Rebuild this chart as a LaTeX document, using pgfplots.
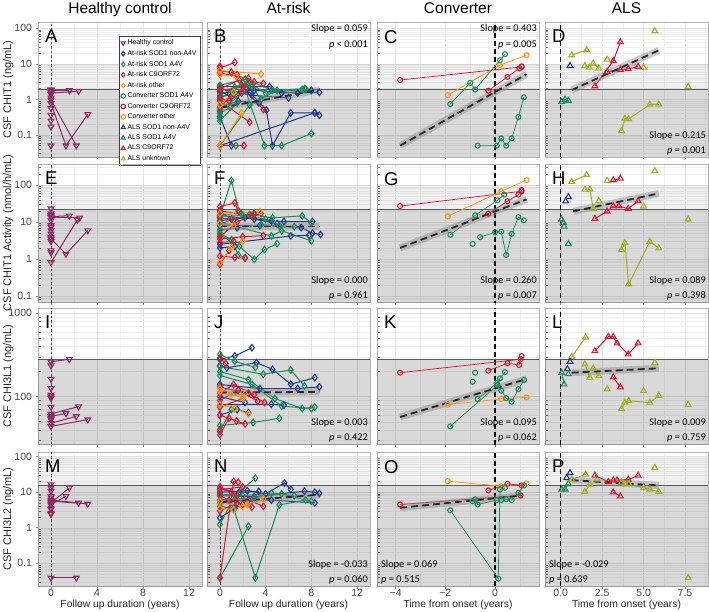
\documentclass[border=0pt]{standalone}
\usepackage{pgfplots}
\pgfplotsset{compat=1.18}
\usepackage{fontspec}
\setmainfont{Liberation Sans}
\newfontfamily\calib{Carlito}
\definecolor{hcc}{RGB}{140,40,100}
\definecolor{cblu}{RGB}{30,55,140}
\definecolor{cgrn}{RGB}{25,140,90}
\definecolor{cred}{RGB}{215,25,50}
\definecolor{corg}{RGB}{250,150,20}
\definecolor{colv}{RGB}{160,175,35}
\tikzset{ymode/.code={}}
\pgfplotsset{
 panel/.style={scale only axis, axis line style={black!30,line width=0.8pt},
  grid=both, major grid style={black!11,line width=0.5pt}, minor grid style={black!6,line width=0.4pt},
  tick style={black!45,line width=0.6pt}, major tick length=2.5pt, minor tick length=2.5pt, tick align=outside,
  minor x tick style={draw=none}, minor y tick style={xshift=2.5pt, black!55, line width=0.5pt},
  xtick pos=left, ytick pos=left,
  xticklabel style={inner sep=0.8pt},
  ticklabel style={font=\fontsize{10.5}{12}\selectfont, text=black!72}},
 colAB/.style={xmin=-1.13,xmax=13.13,xtick={0,4,8,12},minor xtick={2,6,10}},
 colC/.style={xmin=-4.75,xmax=1.77,xtick={-4,-2,0},minor xtick={-3,-1,1}},
 colD/.style={xmin=-0.95,xmax=8.89,xtick={0,2.5,5,7.5},minor xtick={1.25,3.75,6.25,8.75}},
 rowA/.style={ymin=0.024,ymax=150,ytick={0.1,1,10,100},minor ytick={0.03,0.04,0.05,0.06,0.07,0.08,0.09,0.2,0.3,0.4,0.5,0.6,0.7,0.8,0.9,2,3,4,5,6,7,8,9,20,30,40,50,60,70,80,90},height=135pt},
 rowB/.style={ymin=0.069,ymax=370,ytick={0.1,1,10,100},minor ytick={0.07,0.08,0.09,0.2,0.3,0.4,0.5,0.6,0.7,0.8,0.9,2,3,4,5,6,7,8,9,20,30,40,50,60,70,80,90,200,300},height=138pt},
 rowC/.style={ymin=27,ymax=1160,ytick={100,1000},minor ytick={30,40,50,60,70,80,90,200,300,400,500,600,700,800,900},height=136pt},
 rowD/.style={ymin=0.023,ymax=135,ytick={0.1,1,10,100},minor ytick={0.03,0.04,0.05,0.06,0.07,0.08,0.09,0.2,0.3,0.4,0.5,0.6,0.7,0.8,0.9,2,3,4,5,6,7,8,9,20,30,40,50,60,70,80,90},height=134pt},
 noy/.style={yticklabels={}, major y tick style={draw=none}},
 nox/.style={xticklabels={}},
 sub/.style={line width=1pt, mark size=3.3pt, mark options={solid,line width=1.1pt}},
 hc/.style={line width=1pt, color=hcc, mark=triangle, mark size=3.3pt, mark options={solid,rotate=180,line width=1.1pt}},
 arb/.style={sub,color=cblu,mark=diamond},
 arg/.style={sub,color=cgrn,mark=diamond},
 arr/.style={sub,color=cred,mark=diamond},
 aro/.style={sub,color=corg,mark=diamond},
 cv/.style={line width=0.75pt, mark=o, mark size=2.5pt, mark options={solid,line width=1.1pt}},
 cvg/.style={cv,color=cgrn}, cvr/.style={cv,color=cred}, cvo/.style={cv,color=corg},
 al/.style={line width=1pt, mark=triangle, mark size=3.3pt, mark options={solid,line width=1.1pt}},
 alb/.style={al,color=cblu}, alg/.style={al,color=cgrn}, alr/.style={al,color=cred}, alo/.style={al,color=colv},
 thr/.style={black!65, line width=0.8pt, forget plot},
 vthin/.style={black!70, line width=0.6pt, dash pattern=on 2.5pt off 2pt, forget plot},
 vthick/.style={black, line width=1.3pt, dash pattern=on 5pt off 3pt, forget plot},
 rband/.style={black!45, line width=7pt, opacity=0.45, forget plot},
 rline/.style={black!85, line width=1.8pt, dash pattern=on 7pt off 4pt, forget plot},
}
\newcommand{\shaderow}[2]{%
 \addplot[draw=none, fill=black, fill opacity=0.15, forget plot] coordinates {(-10,0.001) (20,0.001) (20,#1) (-10,#1)} -- cycle;
 \addplot[draw=none, fill=black, fill opacity=0.06, forget plot] coordinates {(-10,#1) (20,#1) (20,#2) (-10,#2)} -- cycle;
 \addplot[thr] coordinates {(-10,#1) (20,#1)};}
\newcommand{\vlthin}{\addplot[vthin] coordinates {(0,0.001) (0,10000)};}
\newcommand{\vlthick}{\addplot[vthick] coordinates {(0,0.001) (0,10000)};}
\newcommand{\regline}[1]{\addplot[rband] coordinates {#1};\addplot[rline] coordinates {#1};}
\newcommand{\plet}[1]{\node[anchor=north west, inner sep=0pt, font=\fontsize{18.5}{18.5}\selectfont, xshift=7pt, yshift=-8pt] at (rel axis cs:0,1) {#1};}
\newcommand{\slopeTR}[2]{\node[anchor=base east, inner sep=0pt, font=\calib\fontsize{10.3}{12}\selectfont, xshift=-2pt, yshift=-9.5pt] at (rel axis cs:1,1) {Slope = #1};
 \node[anchor=base east, inner sep=0pt, font=\calib\fontsize{10.3}{12}\selectfont, xshift=-2pt, yshift=-25pt] at (rel axis cs:1,1) {\textit{p} #2};}
\newcommand{\slopeBR}[2]{\node[anchor=base east, inner sep=0pt, font=\calib\fontsize{10.3}{12}\selectfont, xshift=-2pt, yshift=18.5pt] at (rel axis cs:1,0) {Slope = #1};
 \node[anchor=base east, inner sep=0pt, font=\calib\fontsize{10.3}{12}\selectfont, xshift=-2pt, yshift=3.5pt] at (rel axis cs:1,0) {\textit{p} #2};}
\newcommand{\slopeBL}[2]{\node[anchor=base west, inner sep=0pt, font=\calib\fontsize{10.3}{12}\selectfont, xshift=4pt, yshift=18.5pt] at (rel axis cs:0,0) {Slope = #1};
 \node[anchor=base west, inner sep=0pt, font=\calib\fontsize{10.3}{12}\selectfont, xshift=4pt, yshift=3.5pt] at (rel axis cs:0,0) {\textit{p} #2};}
\begin{document}
\begin{tikzpicture}
\useasboundingbox (0,0) rectangle (709pt,-611pt);
% ================= ROW 1 =================
\begin{axis}[ymode=log,panel,colAB,rowA,nox,at={(38pt,-22pt)},anchor=north west,width=164pt,yticklabels={0.1,1,10,100},
 legend style={at={(0.99,0.896)}, anchor=north east, font=\fontsize{6.9}{8}\selectfont, draw=black!75, line width=0.6pt, inner sep=1.5pt, row sep=0.1pt, cells={anchor=west}},
 legend cell align=left,
 legend image code/.code={\draw[mark repeat=2,mark phase=2,#1] plot coordinates {(0cm,0cm) (0.12cm,0cm) (0.24cm,0cm)};},
 legend image post style={mark size=2.3pt}]
\addlegendimage{hc,only marks}\addlegendentry{Healthy control\rule[-4.5pt]{0pt}{4.5pt}}
\addlegendimage{arb,only marks}\addlegendentry{At-risk SOD1 non-A4V}
\addlegendimage{arg,only marks}\addlegendentry{At-risk SOD1 A4V}
\addlegendimage{arr,only marks}\addlegendentry{At-risk C9ORF72}
\addlegendimage{aro,only marks}\addlegendentry{At-risk other\rule[-4.5pt]{0pt}{4.5pt}}
\addlegendimage{cvg,only marks}\addlegendentry{Converter SOD1 A4V}
\addlegendimage{cvr,only marks}\addlegendentry{Converter C9ORF72}
\addlegendimage{cvo,only marks}\addlegendentry{Converter other\rule[-4.5pt]{0pt}{4.5pt}}
\addlegendimage{alb,only marks}\addlegendentry{ALS SOD1 non-A4V}
\addlegendimage{alg,only marks}\addlegendentry{ALS SOD1 A4V}
\addlegendimage{alr,only marks}\addlegendentry{ALS C9ORF72}
\addlegendimage{alo,only marks}\addlegendentry{ALS unknown}
\shaderow{1.9}{10}\vlthin
\addplot[hc] coordinates {(0,1.8) (1.6,1.8)};
\addplot[hc] coordinates {(0,1.5) (2.4,1.7)};
\addplot[hc] coordinates {(0,0.77) (1.3,0.05) (3.2,0.38)};
\addplot[hc] coordinates {(0,0.96) (2.2,0.05)};
\addplot[hc,only marks] coordinates {(0,0.05) (0,0.17) (0,0.25) (0,0.36) (0,0.56) (0,1.11) (0,1.38) (0,1.63) (0,1.9)};
\plet{A}
\end{axis}
\begin{axis}[ymode=log,panel,colAB,rowA,nox,noy,at={(207pt,-22pt)},anchor=north west,width=163pt]
\shaderow{1.9}{10}\vlthin
\addplot[arb] coordinates {(0,2.3) (4.35,2.3) (5.4,1.5) (8.0,1.8)};
\addplot[arb] coordinates {(0,0.05) (8.3,0.42)};
\addplot[arb] coordinates {(0,1.2) (2.6,1.6) (4.06,0.5) (4.6,0.05) (6.2,0.42) (8.3,0.42) (8.7,0.36)};
\addplot[arb] coordinates {(0,0.33) (1.0,0.05)};
\addplot[arb] coordinates {(0,2.0) (2.8,1.3) (6.0,1.1)};
\addplot[arb] coordinates {(0,1.5) (3.0,1.8) (6.8,1.5) (8.7,1.6)};
\addplot[arb] coordinates {(0,0.6) (1.6,0.9) (3.4,0.8)};
\addplot[arb] coordinates {(0,1.7) (1.0,1.2)};
\addplot[arb,only marks] coordinates {(0,0.45)};
\addplot[arg] coordinates {(0,0.05) (2.6,0.7) (5.0,1.8) (7.4,2.0)};
\addplot[arg] coordinates {(0,2.5) (2.2,3.7) (4.6,1.8) (7.5,1.95)};
\addplot[arg] coordinates {(0,1.0) (2.0,3.0) (3.9,0.05) (5.4,0.05) (8.0,0.11)};
\addplot[arg] coordinates {(0,0.05) (1.4,0.05)};
\addplot[arg] coordinates {(0,0.25) (1.5,0.8)};
\addplot[arg] coordinates {(0,1.3) (1.3,2.2) (2.5,3.0) (4.0,1.5) (7.2,1.9)};
\addplot[arg] coordinates {(0,0.4) (0.9,0.6)};
\addplot[arg] coordinates {(0,2.2) (1.2,1.4) (2.4,2.6)};
\addplot[arg] coordinates {(0,0.5) (2.8,2.3) (3.6,1.0)};
\addplot[arg,only marks] coordinates {(0,0.3)};
\addplot[arr] coordinates {(0,7.5) (1.3,11)};
\addplot[arr] coordinates {(0,6.3) (1.0,5.8) (1.5,5.0)};
\addplot[arr] coordinates {(0,5.5) (2.5,3.9) (3.0,3.1) (3.8,2.8)};
\addplot[arr] coordinates {(0,0.05) (2.1,0.05)};
\addplot[arr] coordinates {(0,1.8) (2.0,2.2) (3.8,0.52)};
\addplot[arr] coordinates {(0,0.9) (2.6,0.23)};
\addplot[arr] coordinates {(0,2.0) (1.7,3.5) (2.3,2.1)};
\addplot[arr] coordinates {(0,0.6) (1.0,1.3)};
\addplot[arr] coordinates {(0,1.1) (0.8,0.9) (1.9,1.5)};
\addplot[arr,only marks] coordinates {(0,8.5)};
\addplot[aro] coordinates {(0,6.5) (3.6,5.2)};
\addplot[aro] coordinates {(0,5.0) (1.4,4.4)};
\addplot[aro] coordinates {(0,0.05) (1.9,0.42)};
\addplot[aro] coordinates {(0,0.7) (1.2,1.6)};
\regline{(0,0.58) (8.7,1.85)}
\plet{B}\slopeTR{0.059}{< 0.001}
\end{axis}
\begin{axis}[ymode=log,panel,colC,rowA,nox,noy,at={(377pt,-22pt)},anchor=north west,width=162pt]
\shaderow{1.9}{10}\vlthick
\addplot[cvr] coordinates {(-3.82,3.5) (1.07,8.2)};
\addplot[cvr] coordinates {(-0.27,1.75) (0.5,4.3) (0.98,7.4) (1.07,8.5)};
\addplot[cvo] coordinates {(-1.9,1.32) (0.2,9.2) (1.27,17.5)};
\addplot[cvg] coordinates {(-1.8,0.74) (-1.0,2.9) (-0.8,1.9) (0.2,12.7) (0.4,18.7)};
\addplot[cvg] coordinates {(-0.7,0.05) (0.07,0.05) (0.25,0.08) (0.45,0.05) (0.67,0.08) (0.94,0.32) (1.16,1.14)};
\regline{(-3.82,0.05) (1.27,5.1)}
\plet{C}\slopeTR{0.403}{= 0.005}
\end{axis}
\begin{axis}[ymode=log,panel,colD,rowA,nox,noy,at={(545pt,-22pt)},anchor=north west,width=163pt]
\shaderow{1.9}{10}\vlthick
\addplot[alo,only marks] coordinates {(5.68,83) (2.8,13.2) (5.0,7.9) (7.69,2.26)};
\addplot[alo] coordinates {(0.66,17.6) (1.56,24.3)};
\addplot[alb,only marks] coordinates {(0.56,8.8)};
\addplot[alo] coordinates {(1.46,8.8) (1.72,7.9)};
\addplot[alo] coordinates {(1.96,10.3) (2.3,7.4)};
\addplot[alr] coordinates {(2.06,2.36) (3.17,12.1) (3.6,41)};
\addplot[alr] coordinates {(2.8,6) (3.6,6.9) (4.07,7.2) (4.67,8.3)};
\addplot[alg] coordinates {(0.06,0.86) (0.26,1.0) (0.46,0.92)};
\addplot[alo] coordinates {(3.67,0.13) (3.87,0.29) (4.1,0.28) (5.38,0.72) (5.92,0.72)};
\regline{(0.66,1.82) (5.92,24)}
\plet{D}\slopeBR{0.215}{= 0.001}
\end{axis}
% ================= ROW 2 =================
\begin{axis}[ymode=log,panel,colAB,rowB,nox,at={(38pt,-164pt)},anchor=north west,width=164pt,yticklabels={0.1,1,10,100}]
\shaderow{22}{100}\vlthin
\addplot[hc] coordinates {(0,14) (1.6,14.8)};
\addplot[hc] coordinates {(0,13.5) (2.5,13)};
\addplot[hc] coordinates {(0,0.81) (2.3,11.5)};
\addplot[hc] coordinates {(0,3.5) (1.3,1.37) (3.2,5.9)};
\addplot[hc,only marks] coordinates {(0,23) (0,16.8) (0,15.1) (0,11) (0,8.1) (0,7.3) (0,5.9) (0,4.8) (0,3.9) (0,3.0) (0,1.7) (0,1.5)};
\plet{E}
\end{axis}
\begin{axis}[ymode=log,panel,colAB,rowB,nox,noy,at={(207pt,-164pt)},anchor=north west,width=163pt]
\shaderow{22}{100}\vlthin
\addplot[arb] coordinates {(0,11) (2.2,13) (4.5,10.8) (5.6,10.3) (8.1,10.3)};
\addplot[arb] coordinates {(0,8) (3.5,8) (7.1,7.1) (8.1,5.0) (8.8,4.6)};
\addplot[arb] coordinates {(0,2.5) (6.2,4.2) (7.8,4.4)};
\addplot[arb] coordinates {(0,2.0) (1.3,2.2)};
\addplot[arb] coordinates {(0,6) (1.5,7)};
\addplot[arb] coordinates {(0,15) (3.0,12) (5.0,9)};
\addplot[arg] coordinates {(0,14) (1.0,133) (1.7,19) (3.0,17)};
\addplot[arg] coordinates {(0,9) (2.6,16) (4.6,13) (7.2,14.7) (8.0,9.5)};
\addplot[arg] coordinates {(0,5) (1.0,3.3) (1.6,1.3) (2.2,1.1)};
\addplot[arg] coordinates {(0,4.5) (1.7,2.2) (3.0,0.98) (3.9,1.8) (5.0,2.6)};
\addplot[arg] coordinates {(0,10) (4.5,4.2) (5.4,5.8) (8.0,3.1)};
\addplot[arg] coordinates {(0,16) (2.0,15) (4.0,12) (5.2,8)};
\addplot[arg] coordinates {(0,6) (3.6,8.5) (6.5,7.5)};
\addplot[arg] coordinates {(0,19) (1.2,11)};
\addplot[arr] coordinates {(0,26) (1.3,33) (1.6,20)};
\addplot[arr] coordinates {(0,1.2) (1.3,1.1) (2.2,1.05)};
\addplot[arr] coordinates {(0,0.72) (0.8,1.7)};
\addplot[arr] coordinates {(0,3.5) (2.0,4.0) (3.8,4.3)};
\addplot[arr] coordinates {(0,20) (2.8,15) (3.6,17)};
\addplot[arr] coordinates {(0,4) (1.5,10) (3.0,16)};
\addplot[arr] coordinates {(0,13) (1.0,12)};
\addplot[arr] coordinates {(0,2.8) (1.2,3.0)};
\addplot[aro] coordinates {(0,0.8) (1.0,2.0) (2.0,3.0)};
\addplot[aro] coordinates {(0,17) (3.5,19)};
\addplot[aro] coordinates {(0,9) (1.2,8)};
\regline{(0,7.6) (8.7,7.6)}
\plet{F}\slopeBR{0.000}{= 0.961}
\end{axis}
\begin{axis}[ymode=log,panel,colC,rowB,nox,noy,at={(377pt,-164pt)},anchor=north west,width=162pt]
\shaderow{22}{100}\vlthick
\addplot[cvr] coordinates {(-3.82,27) (1.07,68)};
\addplot[cvr] coordinates {(-0.27,16.8) (0.5,36.5) (0.94,55) (1.07,73)};
\addplot[cvo] coordinates {(-1.9,14.2) (0.25,68) (1.27,136)};
\addplot[cvg] coordinates {(-1.8,4.5) (-0.8,15.2) (0.1,38.8) (0.37,55)};
\addplot[cvg] coordinates {(-0.6,3.9) (0,5.3) (0.25,5.5) (0.45,1.29) (0.67,4.8) (0.94,13.6) (1.16,11.1)};
\addplot[cvg,only marks] coordinates {(-0.9,2.56)};
\regline{(-3.82,2.0) (1.27,41)}
\plet{G}\slopeBR{0.260}{= 0.007}
\end{axis}
\begin{axis}[ymode=log,panel,colD,rowB,nox,noy,at={(545pt,-164pt)},anchor=north west,width=163pt]
\shaderow{22}{100}\vlthick
\addplot[alo,only marks] coordinates {(5.68,240) (2.3,37) (2.8,131) (5.0,26.5) (7.69,11.8)};
\addplot[alo] coordinates {(0.66,123) (1.56,187)};
\addplot[alo] coordinates {(1.46,76) (1.76,76) (1.96,23)};
\addplot[alr] coordinates {(3.17,136) (3.6,151)};
\addplot[alr] coordinates {(2.06,12.3) (2.8,19.5) (3.17,27) (3.5,27) (4.07,23) (4.67,36.5)};
\addplot[alb,only marks] coordinates {(0.46,48) (0.3,36.5)};
\addplot[alg,only marks] coordinates {(0.04,11.8) (0.16,9.6) (0.2,7.6) (0.46,2.56)};
\addplot[alo] coordinates {(3.67,1.76) (3.87,2.73) (4.1,0.21) (5.38,2.96) (5.92,1.96)};
\regline{(0.75,19.5) (5.92,59)}
\plet{H}\slopeBR{0.089}{= 0.398}
\end{axis}
% ================= ROW 3 =================
\begin{axis}[ymode=log,panel,colAB,rowC,nox,at={(38pt,-308pt)},anchor=north west,width=164pt,yticklabels={100,1000}]
\shaderow{281}{281}\vlthin
\addplot[hc] coordinates {(0,263) (1.6,281)};
\addplot[hc] coordinates {(0,58) (1.3,63)};
\addplot[hc] coordinates {(0,62) (2.4,76)};
\addplot[hc] coordinates {(0,48) (2.2,58)};
\addplot[hc] coordinates {(0,44) (3.2,53)};
\addplot[hc,only marks] coordinates {(0,236) (0,163) (0,126) (0,105) (0,100) (0,96) (0,75) (0,55) (0,53)};
\plet{I}
\end{axis}
\begin{axis}[ymode=log,panel,colAB,rowC,nox,noy,at={(207pt,-308pt)},anchor=north west,width=163pt]
\shaderow{281}{281}\vlthin
\addplot[arb] coordinates {(0,281) (1.3,308) (2.8,387)};
\addplot[arb] coordinates {(0,236) (0.6,222) (3.2,256) (4.6,213) (6.2,141) (8.3,169)};
\addplot[arb] coordinates {(0,140) (3.5,125) (6.8,125) (8.7,131)};
\addplot[arb] coordinates {(0,80) (4.5,81) (5.6,79)};
\addplot[arb] coordinates {(0,60) (1.5,70) (2.5,64)};
\addplot[arb] coordinates {(0,100) (2.2,85)};
\addplot[arg] coordinates {(0,323) (1.3,265) (3.1,225)};
\addplot[arg] coordinates {(0,230) (3.8,186) (6.2,209) (7.4,134)};
\addplot[arg] coordinates {(0,180) (2.8,140) (5.4,77) (8.0,72)};
\addplot[arg] coordinates {(0,45) (2.9,49) (5.2,55)};
\addplot[arg] coordinates {(0,38) (1.0,70)};
\addplot[arg] coordinates {(0,200) (2.5,160) (4.8,95) (7.2,72) (8.3,75)};
\addplot[arr] coordinates {(0,290) (0.5,250)};
\addplot[arr] coordinates {(0,60) (1.45,51) (2.2,47)};
\addplot[arr] coordinates {(0,130) (2.5,110) (3.9,85)};
\addplot[arr] coordinates {(0,35) (0.8,55)};
\addplot[arr] coordinates {(0,110) (1.2,140) (3.0,105)};
\addplot[arr] coordinates {(0,75) (2.0,95)};
\addplot[arr] coordinates {(0,90) (1.6,120) (3.3,88)};
\addplot[arr,only marks] coordinates {(0,40)};
\addplot[aro] coordinates {(0,115) (1.0,105) (2.2,108)};
\addplot[aro] coordinates {(0,80) (1.3,72) (2.5,62)};
\addplot[aro] coordinates {(0,125) (2.0,95)};
\regline{(0,112) (8.7,114)}
\plet{J}\slopeBR{0.003}{= 0.422}
\end{axis}
\begin{axis}[ymode=log,panel,colC,rowC,nox,noy,at={(377pt,-308pt)},anchor=north west,width=162pt]
\shaderow{281}{281}\vlthick
\addplot[cvr] coordinates {(-3.82,194) (1.03,281)};
\addplot[cvr] coordinates {(-0.27,205) (0.5,252) (0.97,240) (1.07,308)};
\addplot[cvo] coordinates {(-1.9,80) (0.25,94) (1.27,98)};
\addplot[cvg] coordinates {(-1.8,44) (0.1,138) (0.2,166) (0.4,197)};
\addplot[cvg] coordinates {(-0.7,94) (0.07,145) (0.25,118) (0.45,96) (0.67,87) (0.94,123) (1.17,159)};
\addplot[cvg,only marks] coordinates {(-0.9,151) (-0.8,194)};
\regline{(-3.82,57) (1.27,163)}
\plet{K}\slopeBR{0.095}{= 0.062}
\end{axis}
\begin{axis}[ymode=log,panel,colD,rowC,nox,noy,at={(545pt,-308pt)},anchor=north west,width=163pt]
\shaderow{281}{281}\vlthick
\addplot[alo] coordinates {(0.66,302) (1.5,516)};
\addplot[alr] coordinates {(2.06,353) (2.87,524) (3.17,524) (3.4,438) (4.07,323) (4.67,438)};
\addplot[alb,only marks] coordinates {(0.56,263) (0.4,215)};
\addplot[alg] coordinates {(0.06,194) (0.2,141)};
\addplot[alg,only marks] coordinates {(0.46,187)};
\addplot[alo] coordinates {(1.46,245) (1.76,169)};
\addplot[alo] coordinates {(1.96,219) (2.3,177)};
\addplot[alr] coordinates {(3.17,171) (3.6,130)};
\addplot[alo,only marks] coordinates {(5.68,256) (2.8,123) (5.0,117) (7.69,80)};
\addplot[alo] coordinates {(3.67,71) (3.87,85) (4.1,89) (5.38,85) (5.92,103)};
\regline{(0.66,194) (5.92,219)}
\plet{L}\slopeBR{0.009}{= 0.759}
\end{axis}
% ================= ROW 4 =================
\begin{axis}[ymode=log,panel,colAB,rowD,at={(38pt,-452pt)},anchor=north west,width=164pt,yticklabels={0.1,1,10,100},xticklabels={0,4,8,12}]
\shaderow{15.7}{100}\vlthin
\addplot[hc] coordinates {(0,0.039) (2.2,0.039)};
\addplot[hc] coordinates {(0,5) (1.6,13.3)};
\addplot[hc] coordinates {(0,4.5) (1.3,7.7)};
\addplot[hc] coordinates {(0,6) (2.4,5)};
\addplot[hc] coordinates {(0,5.6) (3.2,4.7)};
\addplot[hc,only marks] coordinates {(0,16.5) (0,13.3) (0,10.7) (0,7.7) (0,7.0) (0,4.5) (0,3.6) (0,3.3) (0,2.6) (0,2.4)};
\plet{M}
\end{axis}
\begin{axis}[ymode=log,panel,colAB,rowD,noy,at={(207pt,-452pt)},anchor=north west,width=163pt,xticklabels={0,4,8,12}]
\shaderow{15.7}{100}\vlthin
\addplot[arb] coordinates {(0,1.9) (1.3,3.5) (2.5,6)};
\addplot[arb] coordinates {(0,10) (2.4,11) (4.0,9) (5.65,18.3) (6.2,11.9)};
\addplot[arb] coordinates {(0,8) (3.0,7.5) (7.4,10.7) (8.3,10) (8.7,9.3)};
\addplot[arb] coordinates {(0,6) (4.5,6) (8.3,5.0)};
\addplot[arb] coordinates {(0,12) (1.7,10) (3.4,10.5)};
\addplot[arg] coordinates {(0,0.039) (2.5,1.1)};
\addplot[arg] coordinates {(0,4) (1.2,3.5) (3.1,0.039) (5.2,4.4) (7.5,6)};
\addplot[arg] coordinates {(0,1.24) (1.3,8) (3.1,25)};
\addplot[arg] coordinates {(0,6) (3.0,7) (5.4,9) (8.0,5.5)};
\addplot[arg] coordinates {(0,9) (2.0,8) (4.5,9.5) (6.5,8)};
\addplot[arr] coordinates {(0,0.039) (1.2,20) (1.6,19)};
\addplot[arr] coordinates {(0,14) (1.0,10) (1.5,8)};
\addplot[arr] coordinates {(0,5) (2.5,6) (3.8,4)};
\addplot[arr] coordinates {(0,3) (1.5,5) (2.8,3.8)};
\addplot[arr] coordinates {(0,8) (0.8,6) (2.0,4.5)};
\addplot[arr] coordinates {(0,12) (2.0,14)};
\addplot[aro] coordinates {(0,5.5) (2.0,4) (3.8,6.5)};
\addplot[aro] coordinates {(0,3.5) (1.2,3.2) (2.4,4.5)};
\regline{(0,5.2) (8.7,8.5)}
\plet{N}\slopeBR{-0.033}{= 0.060}
\end{axis}
\begin{axis}[ymode=log,panel,colC,rowD,noy,at={(377pt,-452pt)},anchor=north west,width=162pt,xticklabels={−4,−2,0}]
\shaderow{15.7}{100}\vlthick
\addplot[cvo] coordinates {(-1.9,20.4) (0.25,14.8) (1.27,17.6)};
\addplot[cvr] coordinates {(-3.82,4.5) (1.03,8.1)};
\addplot[cvr] coordinates {(-0.27,11.2) (0.5,17.2) (1.07,15.5)};
\addplot[cvg] coordinates {(-1.8,3.1) (0.13,0.037) (0.2,11.9) (0.4,13.3)};
\addplot[cvg] coordinates {(-0.9,5.6) (-0.8,6.3) (-0.7,4.5) (0.07,6) (0.25,6) (0.45,6.3) (0.67,6) (0.94,9.6) (1.17,15.5)};
\regline{(-3.82,3.65) (1.1,8.1)}
\plet{O}\slopeBL{0.069}{= 0.515}
\end{axis}
\begin{axis}[ymode=log,panel,colD,rowD,noy,at={(545pt,-452pt)},anchor=north west,width=163pt,xticklabels={0.0,2.5,5.0,7.5}]
\shaderow{15.7}{100}\vlthick
\addplot[alg] coordinates {(0.06,11.9) (0.26,12) (0.46,17.2)};
\addplot[alb,only marks] coordinates {(0.36,25.4) (0.56,35)};
\addplot[alo] coordinates {(0.66,22.7) (1.5,31.6)};
\addplot[alo] coordinates {(1.46,10.3) (1.76,16.5)};
\addplot[alo,only marks] coordinates {(2.2,22.7) (5.68,48.5) (5.0,13.2) (7.69,0.039)};
\addplot[alr] coordinates {(2.06,29.4) (2.87,19.6) (3.17,21.8) (3.4,21.8) (4.07,22.7) (4.67,29.4)};
\addplot[alr] coordinates {(3.17,10) (3.6,7.7)};
\addplot[alo] coordinates {(3.67,18.6) (3.87,17) (4.1,17) (5.38,12) (5.92,10.3)};
\regline{(0.66,21.8) (5.92,15.5)}
\plet{P}\slopeBL{-0.029}{= 0.639}
\end{axis}
% ================= TITLES AND LABELS =================
\begin{scope}[every node/.style={inner sep=0pt}]
\node[anchor=base, font=\fontsize{15.5}{17}\selectfont] at (120pt,-13.3pt) {Healthy control};
\node[anchor=base, font=\fontsize{15.5}{17}\selectfont] at (288.5pt,-13.3pt) {At-risk};
\node[anchor=base, font=\fontsize{15.5}{17}\selectfont] at (458pt,-13.3pt) {Converter};
\node[anchor=base, font=\fontsize{15.5}{17}\selectfont] at (626.5pt,-13.3pt) {ALS};
\node[anchor=base, rotate=90, font=\fontsize{11}{12}\selectfont, text=black!85] at (11pt,-89.5pt) {CSF CHIT1 (ng/mL)};
\node[anchor=base, rotate=90, font=\fontsize{11}{12}\selectfont, text=black!85] at (11pt,-233pt) {CSF CHIT1 Activity (nmol/h/mL)};
\node[anchor=base, rotate=90, font=\fontsize{11}{12}\selectfont, text=black!85] at (11pt,-376pt) {CSF CHI3L1 (ng/mL)};
\node[anchor=base, rotate=90, font=\fontsize{11}{12}\selectfont, text=black!85] at (11pt,-519pt) {CSF CHI3L2 (ng/mL)};
\node[anchor=base, font=\fontsize{10.3}{12}\selectfont, text=black!85] at (120pt,-607pt) {Follow up duration (years)};
\node[anchor=base, font=\fontsize{10.3}{12}\selectfont, text=black!85] at (288.5pt,-607pt) {Follow up duration (years)};
\node[anchor=base, font=\fontsize{10.3}{12}\selectfont, text=black!85] at (458pt,-607pt) {Time from onset (years)};
\node[anchor=base, font=\fontsize{10.3}{12}\selectfont, text=black!85] at (626.5pt,-607pt) {Time from onset (years)};
\end{scope}
\end{tikzpicture}
\end{document}
